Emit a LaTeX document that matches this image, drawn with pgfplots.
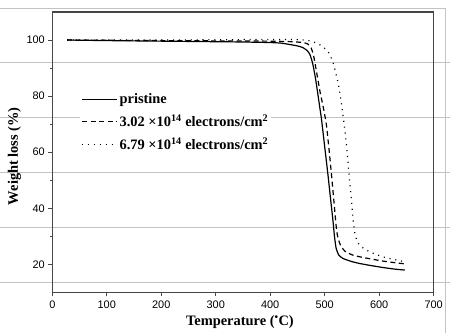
\documentclass[border=0pt]{standalone}
\usepackage{pgfplots}
\pgfplotsset{compat=1.18}
\usepackage{fontspec}
\setmainfont{Liberation Serif}
\newfontfamily\ticksfont{Liberation Sans}

\definecolor{framegray}{RGB}{70,70,70}
\definecolor{rulegray}{RGB}{195,195,195}

\pgfplotstableread{
T W
27 100
100 99.8
200 99.6
300 99.4
350 99.3
400 99.1
420 98.9
436 98.4
450 97.9
460 97.3
468 96.2
473 94.8
478 91.6
483 86.5
488 80
491 76
494 72
500 62
506 52
511 43
515 36
518 30
521 25.8
526 23.3
534 22.1
550 21.0
565 20.3
585 19.6
607 18.9
630 18.3
647 18.0
}\pristine

\pgfplotstableread{
T W
27 100
100 99.9
200 99.8
300 99.7
400 99.6
440 99.4
460 99.1
469 98.6
475 97.2
479 95
482 92
487 86.5
492 81
497 76.5
503 70
508 61
512.5 52
516 44.5
519.5 37
522 32
525 29
530 26.5
538 24.6
552 23.3
570 22.5
589 21.8
610 21.1
638 20.4
647 20.2
}\lowdose

\pgfplotstableread{
T W
27 100
100 100
200 100
300 100.1
400 100.2
440 100.2
464 100
480 99.3
494 98
503 96.5
509 95
515.6 91.8
520 88.5
525 84.4
531 77
536 69.5
540 62.5
545 51.5
549 43
552 36.2
555 31.5
559 28.6
564 26.9
573 25.5
583 24.5
595 23.5
607 22.7
622 22.0
638 21.3
647 21.0
}\highdose

\begin{document}
\begin{tikzpicture}
% page rules behind the figure
\begin{scope}[rulegray, line width=0.8bp]
  \foreach \yy in {230,175,120,65,10}
    \draw (-52bp,\yy bp) -- (398bp,\yy bp);
  \draw (-52bp,285bp) -- (394bp,285bp) -- (394bp,-41bp);
\end{scope}
\path (-52bp,-41bp) rectangle (398bp,293bp);

\begin{axis}[
  scale only axis,
  width=382bp, height=281bp,
  xmin=0, xmax=700, ymin=10, ymax=110,
  xtick={0,100,...,700},
  ytick={20,40,...,100},
  minor y tick num=1,
  xtick pos=bottom, ytick pos=left,
  tick align=outside,
  major tick length=4bp, minor tick length=2.5bp,
  axis line style={framegray, line width=1.4bp},
  every tick/.style={framegray, line width=0.9bp},
  /pgf/number format/assume math mode=true,
  ticklabel style={font=\ticksfont\fontsize{11}{13}\selectfont},
  xticklabel style={yshift=-1bp},
  xlabel={Temperature (\textsuperscript{\textbullet}C)},
  ylabel={Weight loss (\%)},
  label style={font=\bfseries\fontsize{14.5}{17}\selectfont},
  xlabel style={at={(axis description cs:0.492,-0.107)}, anchor=center},
  ylabel style={at={(axis description cs:-0.0995,0.486)}, anchor=center},
  legend style={
    at={(axis description cs:0.0733,0.72)}, anchor=north west,
    draw=none, fill=white, inner xsep=1bp, inner ysep=1bp,
    font=\bfseries\fontsize{14.5}{17}\selectfont,
    row sep=5.5bp,
    /tikz/every even column/.append style={column sep=3.5bp},
  },
  legend cell align=left,
  legend image code/.code={\draw[#1] (0bp,0bp) -- (35bp,0bp);},
]
\addplot[black, line width=1.2bp, smooth, tension=0.35] table[x=T,y=W]{\pristine};
\addplot[black, line width=1.2bp, dash pattern=on 5bp off 3.5bp, smooth, tension=0.35] table[x=T,y=W]{\lowdose};
\addplot[black, line width=1.2bp, dash pattern=on 1.1bp off 4.8bp, smooth, tension=0.35] table[x=T,y=W]{\highdose};
\legend{pristine,
  3.02 \texttimes10\textsuperscript{14} electrons/cm\textsuperscript{2},
  6.79 \texttimes10\textsuperscript{14} electrons/cm\textsuperscript{2}}
\end{axis}
\end{tikzpicture}
\end{document}
